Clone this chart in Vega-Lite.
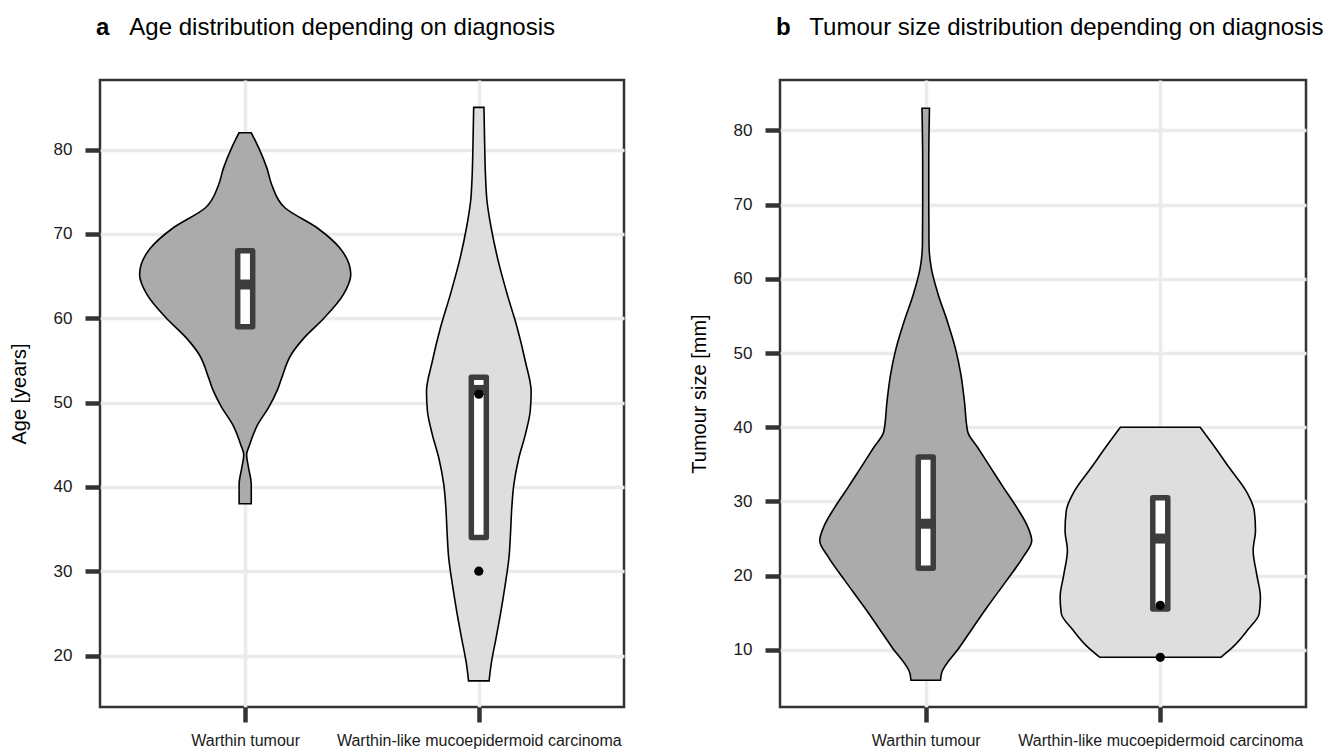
{
  "$schema": "https://vega.github.io/schema/vega-lite/v6.json",
  "background": "white",
  "padding": {"left": 7, "top": 14, "right": 5, "bottom": 5},
  "spacing": 61,
  "config": {
    "font": "Liberation Sans",
    "view": {"stroke": "#333333", "strokeWidth": 2.5},
    "axis": {
      "domain": false,
      "gridColor": "#ebebeb",
      "gridWidth": 3.5,
      "tickColor": "#333333",
      "tickSize": 15,
      "tickWidth": 4.5,
      "labelFontSize": 16,
      "labelColor": "#1a1a1a",
      "labelFont": "Liberation Sans",
      "labelLimit": 0,
      "titleFont": "Liberation Sans",
      "titleFontSize": 20,
      "titleFontWeight": "normal",
      "titleColor": "#000000"
    },
    "axisX": {"labelPadding": 10},
    "axisY": {"labelPadding": 13, "titlePadding": 24, "labelFontSize": 17},
    "title": {
      "anchor": "start",
      "frame": "group",
      "dx": -4,
      "font": "Liberation Sans",
      "fontSize": 24,
      "fontWeight": "bold",
      "color": "#000000",
      "subtitleFont": "Liberation Sans",
      "subtitleFontSize": 24,
      "subtitleFontWeight": "normal",
      "subtitleColor": "#000000",
      "subtitlePadding": -24,
      "offset": 40
    }
  },
  "datasets": {
    "ageViolin": [
      {"diag": "Warthin tumour", "age": 38.0, "w": 0.026},
      {"diag": "Warthin tumour", "age": 40.3, "w": 0.026},
      {"diag": "Warthin tumour", "age": 42.2, "w": 0.015},
      {"diag": "Warthin tumour", "age": 43.8, "w": 0.006},
      {"diag": "Warthin tumour", "age": 45.0, "w": 0.019},
      {"diag": "Warthin tumour", "age": 47.4, "w": 0.054},
      {"diag": "Warthin tumour", "age": 49.4, "w": 0.100},
      {"diag": "Warthin tumour", "age": 51.5, "w": 0.138},
      {"diag": "Warthin tumour", "age": 52.9, "w": 0.156},
      {"diag": "Warthin tumour", "age": 55.7, "w": 0.197},
      {"diag": "Warthin tumour", "age": 57.7, "w": 0.253},
      {"diag": "Warthin tumour", "age": 60.0, "w": 0.337},
      {"diag": "Warthin tumour", "age": 62.8, "w": 0.420},
      {"diag": "Warthin tumour", "age": 65.2, "w": 0.452},
      {"diag": "Warthin tumour", "age": 68.3, "w": 0.406},
      {"diag": "Warthin tumour", "age": 70.7, "w": 0.309},
      {"diag": "Warthin tumour", "age": 73.1, "w": 0.170},
      {"diag": "Warthin tumour", "age": 75.8, "w": 0.114},
      {"diag": "Warthin tumour", "age": 77.8, "w": 0.093},
      {"diag": "Warthin tumour", "age": 80.2, "w": 0.058},
      {"diag": "Warthin tumour", "age": 82.0, "w": 0.026},
      {"diag": "Warthin-like mucoepidermoid carcinoma", "age": 17.0, "w": 0.044},
      {"diag": "Warthin-like mucoepidermoid carcinoma", "age": 19.0, "w": 0.053},
      {"diag": "Warthin-like mucoepidermoid carcinoma", "age": 22.1, "w": 0.074},
      {"diag": "Warthin-like mucoepidermoid carcinoma", "age": 25.3, "w": 0.095},
      {"diag": "Warthin-like mucoepidermoid carcinoma", "age": 28.4, "w": 0.113},
      {"diag": "Warthin-like mucoepidermoid carcinoma", "age": 31.6, "w": 0.129},
      {"diag": "Warthin-like mucoepidermoid carcinoma", "age": 34.7, "w": 0.136},
      {"diag": "Warthin-like mucoepidermoid carcinoma", "age": 37.5, "w": 0.141},
      {"diag": "Warthin-like mucoepidermoid carcinoma", "age": 40.3, "w": 0.150},
      {"diag": "Warthin-like mucoepidermoid carcinoma", "age": 43.4, "w": 0.171},
      {"diag": "Warthin-like mucoepidermoid carcinoma", "age": 46.2, "w": 0.199},
      {"diag": "Warthin-like mucoepidermoid carcinoma", "age": 49.0, "w": 0.220},
      {"diag": "Warthin-like mucoepidermoid carcinoma", "age": 51.3, "w": 0.224},
      {"diag": "Warthin-like mucoepidermoid carcinoma", "age": 54.9, "w": 0.199},
      {"diag": "Warthin-like mucoepidermoid carcinoma", "age": 58.9, "w": 0.164},
      {"diag": "Warthin-like mucoepidermoid carcinoma", "age": 62.8, "w": 0.122},
      {"diag": "Warthin-like mucoepidermoid carcinoma", "age": 66.8, "w": 0.083},
      {"diag": "Warthin-like mucoepidermoid carcinoma", "age": 70.7, "w": 0.053},
      {"diag": "Warthin-like mucoepidermoid carcinoma", "age": 73.9, "w": 0.035},
      {"diag": "Warthin-like mucoepidermoid carcinoma", "age": 76.6, "w": 0.029},
      {"diag": "Warthin-like mucoepidermoid carcinoma", "age": 80.6, "w": 0.025},
      {"diag": "Warthin-like mucoepidermoid carcinoma", "age": 85.0, "w": 0.022}
    ],
    "ageBox": [
      {"diag": "Warthin tumour", "q1": 59, "median": 64, "q3": 68},
      {"diag": "Warthin-like mucoepidermoid carcinoma", "q1": 34, "median": 51.5, "q3": 53}
    ],
    "agePoints": [
      {"diag": "Warthin-like mucoepidermoid carcinoma", "age": 51},
      {"diag": "Warthin-like mucoepidermoid carcinoma", "age": 30}
    ],
    "sizeViolin": [
      {"diag": "Warthin tumour", "size": 5.9, "w": 0.063},
      {"diag": "Warthin tumour", "size": 6.8, "w": 0.067},
      {"diag": "Warthin tumour", "size": 10.35, "w": 0.144},
      {"diag": "Warthin tumour", "size": 12.2, "w": 0.184},
      {"diag": "Warthin tumour", "size": 15.8, "w": 0.263},
      {"diag": "Warthin tumour", "size": 19.4, "w": 0.346},
      {"diag": "Warthin tumour", "size": 22.5, "w": 0.415},
      {"diag": "Warthin tumour", "size": 24.7, "w": 0.452},
      {"diag": "Warthin tumour", "size": 26.5, "w": 0.436},
      {"diag": "Warthin tumour", "size": 29.2, "w": 0.388},
      {"diag": "Warthin tumour", "size": 31.9, "w": 0.331},
      {"diag": "Warthin tumour", "size": 34.6, "w": 0.276},
      {"diag": "Warthin tumour", "size": 37.3, "w": 0.221},
      {"diag": "Warthin tumour", "size": 39.4, "w": 0.179},
      {"diag": "Warthin tumour", "size": 43.5, "w": 0.165},
      {"diag": "Warthin tumour", "size": 47.1, "w": 0.150},
      {"diag": "Warthin tumour", "size": 50.7, "w": 0.126},
      {"diag": "Warthin tumour", "size": 54.3, "w": 0.092},
      {"diag": "Warthin tumour", "size": 57.9, "w": 0.053},
      {"diag": "Warthin tumour", "size": 61.4, "w": 0.024},
      {"diag": "Warthin tumour", "size": 64.6, "w": 0.014},
      {"diag": "Warthin tumour", "size": 70.0, "w": 0.013},
      {"diag": "Warthin tumour", "size": 75.8, "w": 0.013},
      {"diag": "Warthin tumour", "size": 83.0, "w": 0.016},
      {"diag": "Warthin-like mucoepidermoid carcinoma", "size": 9.0, "w": 0.258},
      {"diag": "Warthin-like mucoepidermoid carcinoma", "size": 10.4, "w": 0.310},
      {"diag": "Warthin-like mucoepidermoid carcinoma", "size": 12.7, "w": 0.373},
      {"diag": "Warthin-like mucoepidermoid carcinoma", "size": 14.9, "w": 0.422},
      {"diag": "Warthin-like mucoepidermoid carcinoma", "size": 17.1, "w": 0.427},
      {"diag": "Warthin-like mucoepidermoid carcinoma", "size": 20.2, "w": 0.411},
      {"diag": "Warthin-like mucoepidermoid carcinoma", "size": 23.4, "w": 0.396},
      {"diag": "Warthin-like mucoepidermoid carcinoma", "size": 26.1, "w": 0.406},
      {"diag": "Warthin-like mucoepidermoid carcinoma", "size": 28.7, "w": 0.401},
      {"diag": "Warthin-like mucoepidermoid carcinoma", "size": 31.4, "w": 0.366},
      {"diag": "Warthin-like mucoepidermoid carcinoma", "size": 34.6, "w": 0.293},
      {"diag": "Warthin-like mucoepidermoid carcinoma", "size": 37.3, "w": 0.233},
      {"diag": "Warthin-like mucoepidermoid carcinoma", "size": 40.0, "w": 0.170}
    ],
    "sizeBox": [
      {"diag": "Warthin tumour", "q1": 21, "median": 27, "q3": 36},
      {"diag": "Warthin-like mucoepidermoid carcinoma", "q1": 15.5, "median": 25, "q3": 30.5}
    ],
    "sizePoints": [
      {"diag": "Warthin-like mucoepidermoid carcinoma", "size": 16},
      {"diag": "Warthin-like mucoepidermoid carcinoma", "size": 9}
    ]
  },
  "hconcat": [
    {
      "width": 524,
      "height": 627,
      "title": {"text": "a", "subtitle": "\u200b\u00a0\u00a0\u00a0\u00a0\u00a0Age distribution depending on diagnosis"},
      "layer": [
        {
          "data": {"name": "ageViolin"},
          "transform": [
            {"calculate": "datum.diag === 'Warthin tumour' ? 1 : 2", "as": "pos"},
            {"calculate": "datum.pos - datum.w", "as": "lo"},
            {"calculate": "datum.pos + datum.w", "as": "hi"}
          ],
          "mark": {"type": "area", "orient": "horizontal", "stroke": "black", "strokeWidth": 1.6, "interpolate": "monotone", "opacity": 1},
          "encoding": {
            "y": {"field": "age", "type": "quantitative", "scale": {"domain": [13.9, 88.25], "nice": false, "zero": false},
              "axis": {"title": "Age [years]", "values": [20, 30, 40, 50, 60, 70, 80]}},
            "x": {"field": "lo", "type": "quantitative", "scale": {"domain": [0.4, 2.6], "nice": false, "zero": false},
              "axis": {"title": null, "values": [1, 2], "labelExpr": "datum.value == 1 ? 'Warthin tumour' : 'Warthin-like mucoepidermoid carcinoma'"}},
            "x2": {"field": "hi"},
            "fill": {"field": "diag", "type": "nominal", "scale": {"domain": ["Warthin tumour", "Warthin-like mucoepidermoid carcinoma"], "range": ["#ababab", "#dedede"]}, "legend": null},
            "detail": {"field": "diag"}
          }
        },
        {
          "data": {"name": "ageBox"},
          "transform": [{"calculate": "datum.diag === 'Warthin tumour' ? 1 : 2", "as": "pos"}],
          "mark": {"type": "bar", "width": 15, "fill": "white", "stroke": "#3d3d3d", "strokeWidth": 5.5, "strokeJoin": "round", "opacity": 1},
          "encoding": {
            "x": {"field": "pos", "type": "quantitative"},
            "y": {"field": "q1", "type": "quantitative"},
            "y2": {"field": "q3"}
          }
        },
        {
          "data": {"name": "ageBox"},
          "transform": [{"calculate": "datum.diag === 'Warthin tumour' ? 1 : 2", "as": "pos"}],
          "mark": {"type": "tick", "orient": "horizontal", "size": 15, "thickness": 10, "color": "#3d3d3d", "opacity": 1},
          "encoding": {
            "x": {"field": "pos", "type": "quantitative"},
            "y": {"field": "median", "type": "quantitative"}
          }
        },
        {
          "data": {"name": "agePoints"},
          "transform": [{"calculate": "datum.diag === 'Warthin tumour' ? 1 : 2", "as": "pos"}],
          "mark": {"type": "circle", "size": 85, "color": "black", "opacity": 1},
          "encoding": {
            "x": {"field": "pos", "type": "quantitative"},
            "y": {"field": "age", "type": "quantitative"}
          }
        }
      ]
    },
    {
      "width": 526,
      "height": 627,
      "title": {"text": "b", "subtitle": "\u200b\u00a0\u00a0\u00a0\u00a0\u00a0Tumour size distribution depending on diagnosis"},
      "layer": [
        {
          "data": {"name": "sizeViolin"},
          "transform": [
            {"calculate": "datum.diag === 'Warthin tumour' ? 1 : 2", "as": "pos"},
            {"calculate": "datum.pos - datum.w", "as": "lo"},
            {"calculate": "datum.pos + datum.w", "as": "hi"}
          ],
          "mark": {"type": "area", "orient": "horizontal", "stroke": "black", "strokeWidth": 1.6, "interpolate": "monotone", "opacity": 1},
          "encoding": {
            "y": {"field": "size", "type": "quantitative", "scale": {"domain": [2.3, 86.8], "nice": false, "zero": false},
              "axis": {"title": "Tumour size [mm]", "values": [10, 20, 30, 40, 50, 60, 70, 80]}},
            "x": {"field": "lo", "type": "quantitative", "scale": {"domain": [0.4, 2.6], "nice": false, "zero": false},
              "axis": {"title": null, "values": [1, 2], "labelExpr": "datum.value == 1 ? 'Warthin tumour' : 'Warthin-like mucoepidermoid carcinoma'"}},
            "x2": {"field": "hi"},
            "fill": {"field": "diag", "type": "nominal", "scale": {"domain": ["Warthin tumour", "Warthin-like mucoepidermoid carcinoma"], "range": ["#ababab", "#dedede"]}, "legend": null},
            "detail": {"field": "diag"}
          }
        },
        {
          "data": {"name": "sizeBox"},
          "transform": [{"calculate": "datum.diag === 'Warthin tumour' ? 1 : 2", "as": "pos"}],
          "mark": {"type": "bar", "width": 15, "fill": "white", "stroke": "#3d3d3d", "strokeWidth": 5.5, "strokeJoin": "round", "opacity": 1},
          "encoding": {
            "x": {"field": "pos", "type": "quantitative"},
            "y": {"field": "q1", "type": "quantitative"},
            "y2": {"field": "q3"}
          }
        },
        {
          "data": {"name": "sizeBox"},
          "transform": [{"calculate": "datum.diag === 'Warthin tumour' ? 1 : 2", "as": "pos"}],
          "mark": {"type": "tick", "orient": "horizontal", "size": 15, "thickness": 10, "color": "#3d3d3d", "opacity": 1},
          "encoding": {
            "x": {"field": "pos", "type": "quantitative"},
            "y": {"field": "median", "type": "quantitative"}
          }
        },
        {
          "data": {"name": "sizePoints"},
          "transform": [{"calculate": "datum.diag === 'Warthin tumour' ? 1 : 2", "as": "pos"}],
          "mark": {"type": "circle", "size": 85, "color": "black", "opacity": 1},
          "encoding": {
            "x": {"field": "pos", "type": "quantitative"},
            "y": {"field": "size", "type": "quantitative"}
          }
        }
      ]
    }
  ]
}
